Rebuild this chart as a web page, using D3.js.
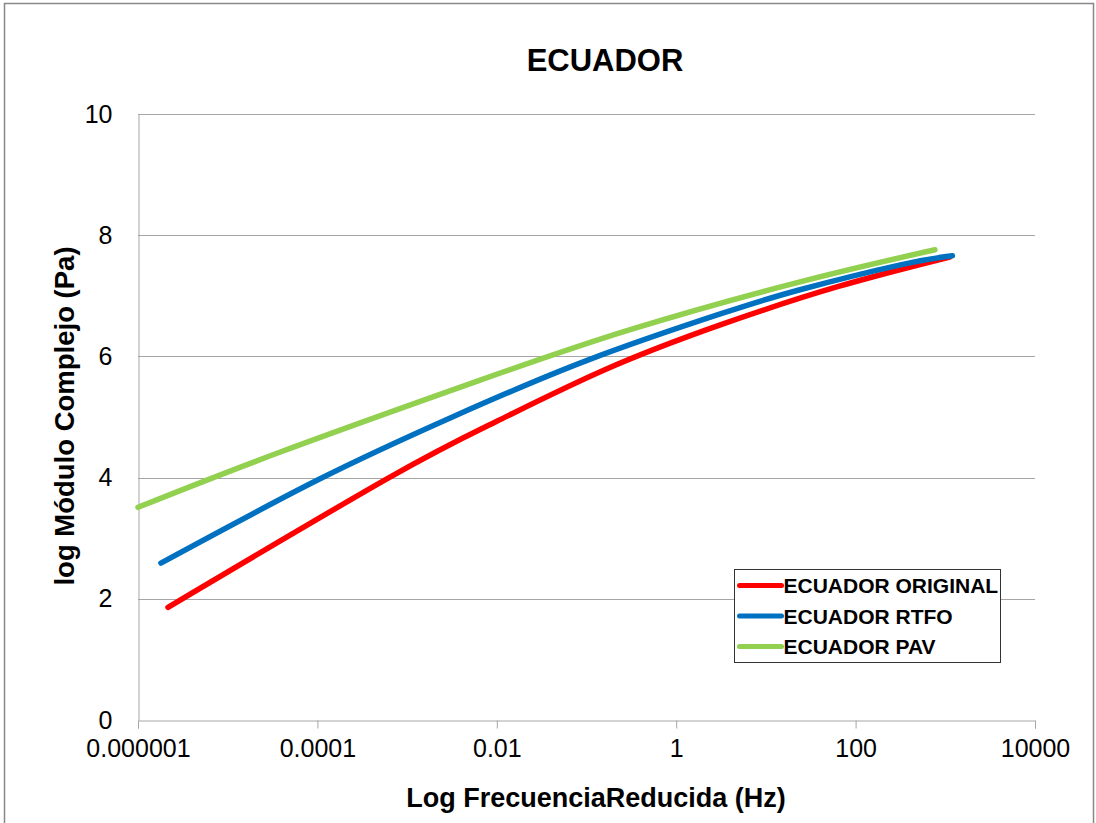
<!DOCTYPE html>
<html>
<head>
<meta charset="utf-8">
<script src="https://cdn.jsdelivr.net/npm/d3@7"></script>
<style>
  body { margin: 0; background: #fff; }
  text { font-family: "Liberation Sans", Arial, sans-serif; }
</style>
</head>
<body>
<svg width="1096" height="823"></svg>
<script>
// frecuencias reducidas (Hz) y log del modulo complejo (Pa)
const redFreq = [2.16e-6, 6.3e-4, 0.01, 0.16, 3.1, 63, 1120];
const redMod  = [1.86, 4.00, 4.93, 5.78, 6.52, 7.15, 7.64];

const blueFreq = [1.8e-6, 1.07e-4, 3.2e-3, 0.1, 3.1, 24, 316, 1200];
const blueMod  = [2.59, 3.98, 5.00, 5.93, 6.70, 7.10, 7.51, 7.66];

const greenFreq = [1e-6, 4.0e-5, 6.3e-3, 0.32, 24, 767];
const greenMod  = [3.51, 4.43, 5.60, 6.45, 7.23, 7.76];

const seriesNames = ['ECUADOR ORIGINAL', 'ECUADOR RTFO', 'ECUADOR PAV'];
const seriesColors = ['#ff0000', '#0070c0', '#92d050'];
const xTicks = [1e-6, 1e-4, 1e-2, 1, 100, 10000];
const xTickLabels = ['0.000001', '0.0001', '0.01', '1', '100', '10000'];
const yTicks = [0, 2, 4, 6, 8, 10];

const svg = d3.select('svg');
const plotLeft = 138, plotRight = 1035, plotTop = 114, plotBottom = 720;

const x = d3.scaleLog().domain([1e-6, 1e4]).range([plotLeft, plotRight]);
const y = d3.scaleLinear().domain([0, 10]).range([plotBottom, plotTop]);

// marco exterior
svg.append('rect')
  .attr('x', 4.5).attr('y', 3.5).attr('width', 1089).attr('height', 840)
  .attr('fill', 'none').attr('stroke', '#888').attr('stroke-width', 1.5);

// titulo
svg.append('text')
  .attr('x', 605).attr('y', 71)
  .attr('text-anchor', 'middle')
  .style('font-size', '31px').style('font-weight', 'bold')
  .text('ECUADOR');

// grid
svg.append('g').selectAll('line')
  .data(yTicks.filter(d => d > 0))
  .enter().append('line')
  .attr('x1', plotLeft).attr('x2', plotRight)
  .attr('y1', d => Math.round(y(d)) + 0.5).attr('y2', d => Math.round(y(d)) + 0.5)
  .attr('stroke', '#a6a6a6').attr('stroke-width', 1);

// eje x
const xAxis = svg.append('g')
  .attr('transform', `translate(0,${plotBottom + 0.5})`)
  .call(d3.axisBottom(x).tickValues(xTicks)
    .tickFormat((d, i) => xTickLabels[i]).tickSize(8).tickPadding(11));
xAxis.select('.domain').attr('stroke', '#a6a6a6');
xAxis.selectAll('.tick line').attr('stroke', '#a6a6a6');
xAxis.selectAll('text').style('font-size', '25px').attr('fill', '#000')
  .attr('font-family', '"Liberation Sans", Arial, sans-serif');

// eje y
const yAxis = svg.append('g')
  .attr('transform', `translate(${plotLeft + 0.5},0)`)
  .call(d3.axisLeft(y).tickValues(yTicks).tickSize(0).tickPadding(26));
yAxis.select('.domain').attr('stroke', '#a6a6a6');
yAxis.selectAll('text').style('font-size', '25px').attr('fill', '#000')
  .attr('font-family', '"Liberation Sans", Arial, sans-serif');

// titulos de ejes
svg.append('text')
  .attr('x', 596).attr('y', 807)
  .attr('text-anchor', 'middle')
  .style('font-size', '27px').style('font-weight', 'bold')
  .text('Log FrecuenciaReducida (Hz)');

svg.append('text')
  .attr('transform', 'translate(74,416) rotate(-90)')
  .attr('text-anchor', 'middle')
  .style('font-size', '27.5px').style('font-weight', 'bold')
  .text('log Módulo Complejo (Pa)');

// curvas
const line = d3.line()
  .x(d => x(d[0])).y(d => y(d[1]))
  .curve(d3.curveNatural);

const series = [
  d3.zip(redFreq, redMod),
  d3.zip(blueFreq, blueMod),
  d3.zip(greenFreq, greenMod)
];

svg.append('g').selectAll('path')
  .data(series)
  .enter().append('path')
  .attr('d', line)
  .attr('fill', 'none')
  .attr('stroke', (d, i) => seriesColors[i])
  .attr('stroke-width', 5.5)
  .attr('stroke-linecap', 'round')
  .attr('stroke-linejoin', 'round');

// leyenda
const legend = svg.append('g').attr('transform', 'translate(734.5,569.5)');
legend.append('rect')
  .attr('width', 266).attr('height', 93)
  .attr('fill', '#fff').attr('stroke', '#333').attr('stroke-width', 1);

const items = legend.selectAll('g.item')
  .data(seriesNames)
  .enter().append('g')
  .attr('transform', (d, i) => `translate(0,${16 + i * 30.5})`);

items.append('line')
  .attr('x1', 5).attr('x2', 47)
  .attr('stroke', (d, i) => seriesColors[i])
  .attr('stroke-width', 5).attr('stroke-linecap', 'round');

items.append('text')
  .attr('x', 49).attr('y', 7.5)
  .style('font-size', '21px').style('font-weight', 'bold')
  .text(d => d);
</script>
</body>
</html>
